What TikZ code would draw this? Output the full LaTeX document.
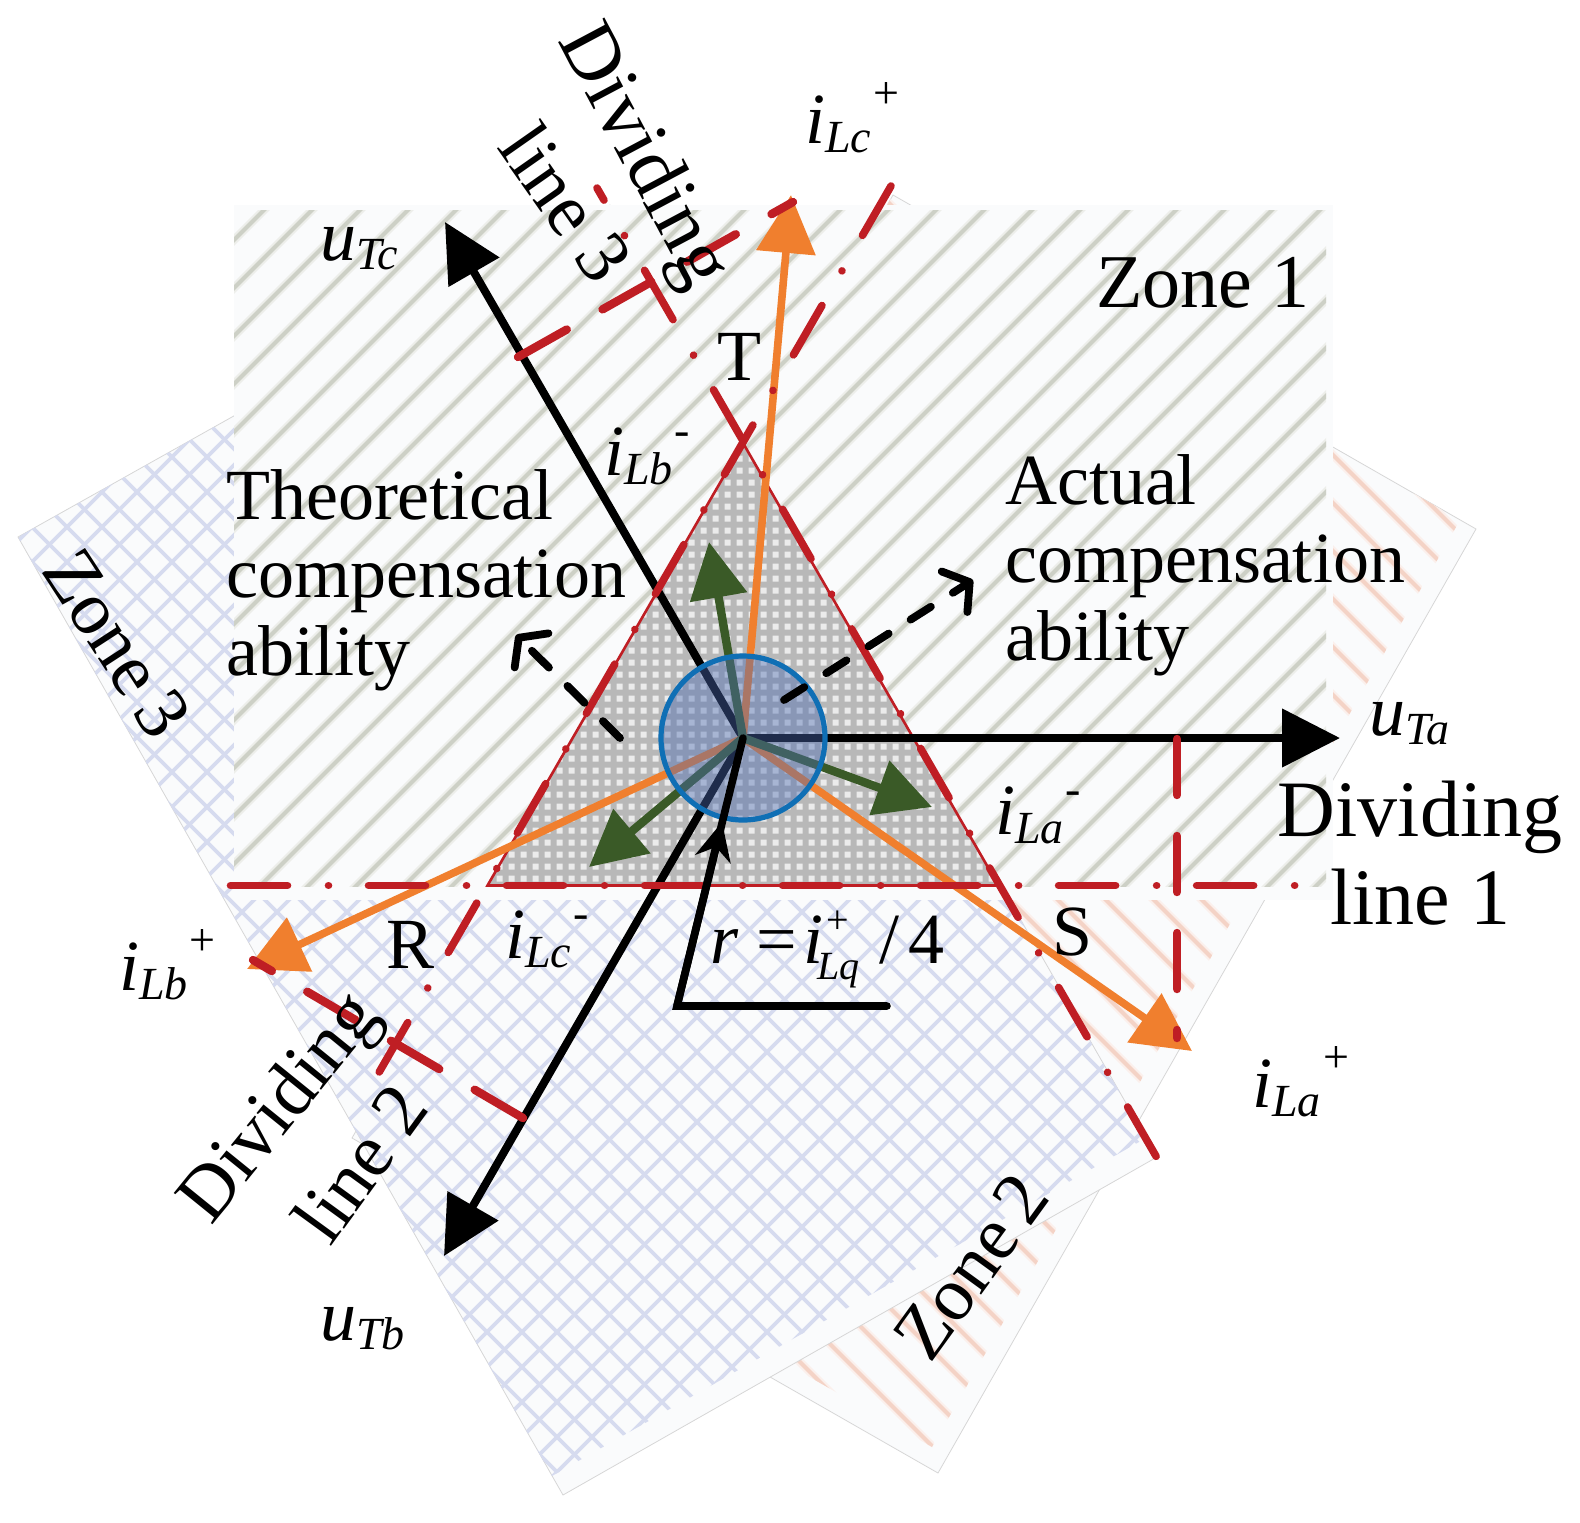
\documentclass[tikz,border=0pt]{standalone}
\usepackage{fontspec}
\setmainfont{Liberation Serif}
\usetikzlibrary{arrows.meta}
\definecolor{redline}{HTML}{BF1E24}
\definecolor{orangeline}{HTML}{F07F2E}
\definecolor{greenline}{HTML}{3A5A27}
\definecolor{circleline}{HTML}{0F6FB5}
\definecolor{circlefill}{HTML}{4A6BB4}
\definecolor{zonefill}{HTML}{FAFBFC}
\definecolor{stripegray}{HTML}{CDD0C6}
\definecolor{stripegrayhalo}{HTML}{EDEEEA}
\definecolor{hatchblue}{HTML}{D6DBEF}
\definecolor{stripepink}{HTML}{F4D3C6}
\definecolor{stripepinkhalo}{HTML}{FBF0EC}
\newcommand{\subsz}{\fontsize{23}{24}\selectfont}
\newcommand{\tinysz}{\fontsize{20}{20}\selectfont}
\newcommand{\curlab}[4]{{\itshape #1}\raisebox{-4.5pt}{\subsz\itshape #2}\raisebox{#4}{\subsz\kern1pt #3}}
\newcommand{\pluslab}[1]{\curlab{i}{#1}{+}{17.5pt}}
\newcommand{\minuslab}[1]{\curlab{i}{#1}{-}{15pt}}
\newcommand{\volab}[1]{{\itshape u}\raisebox{-4.5pt}{\subsz\itshape #1}}
\tikzset{
  txt/.style={inner sep=0pt,text=black,font=\fontsize{36}{39}\selectfont},
  bigtxt/.style={inner sep=0pt,text=black,font=\fontsize{40}{44}\selectfont},
  midtxt/.style={inner sep=0pt,text=black,font=\fontsize{38}{40}\selectfont},
  zonetxt/.style={inner sep=0pt,text=black,font=\fontsize{38}{39}\selectfont},
  stripeA/.style={stripegray,line width=2pt},
  stripeAh/.style={stripegrayhalo,line width=4.2pt},
  hatchB/.style={hatchblue,line width=1.9pt},
  stripeC/.style={stripepink,line width=2pt},
  stripeCh/.style={stripepinkhalo,line width=4.2pt},
  zoneedge/.style={draw=black!16,line width=.4pt,fill=zonefill},
  divline/.style={redline,line width=3.8pt,line cap=round,dash pattern=on 28.5pt off 20.5pt on 0.01pt off 20pt},
  dimline/.style={redline,line width=4.2pt,line cap=round,dash pattern=on 28pt off 20.5pt},
  axis/.style={black,line width=4pt,-{Triangle[length=29pt,width=28.5pt]}},
  loadcur/.style={orangeline,line width=3.8pt,-{Triangle[length=29pt,width=29pt]}},
  negcur/.style={greenline,line width=4.2pt,-{Triangle[length=28pt,width=28pt]}},
  dasharrow/.style={black,line width=3.9pt,line cap=round,dash pattern=on 12pt off 13pt,-{Straight Barb[length=9pt,width=24pt,round]}},
}
\begin{document}
\begin{tikzpicture}[x=0.5pt,y=-0.5pt]
\useasboundingbox (0,0) rectangle (1580,1522);
% named points
\coordinate (O) at (743,738);
\coordinate (apex) at (743,443);
\coordinate (triL) at (487.5,885.5);
\coordinate (triR) at (998.5,885.5);
\coordinate (tipUa) at (1340,738);
\coordinate (tipUc) at (445,222);
\coordinate (tipUb) at (444,1256);
\coordinate (tipIc) at (791,195);
\coordinate (tipIb) at (247,969);
\coordinate (tipIa) at (1192,1051);
\coordinate (tipGc) at (709,542);
\coordinate (tipGa) at (932,807);
\coordinate (tipGb) at (589,867);
\coordinate (corner) at (677,1006);
\coordinate (radEnd) at (887,1006);
\coordinate (radTip) at (722,822);
% Zone 2 pink layer
\path[zoneedge] (893,195) -- (1476,529) -- (938,1473) -- (352,1138) -- cycle;
\begin{scope}
\clip (893,195) -- (1460,520) -- (932,1447) -- (362,1121) -- cycle;
\foreach \k in {-6,...,30}{
  \draw[stripeCh] ({-514+48*\k+1600},1600) -- ({-514+48*\k-100},-100);
  \draw[stripeC] ({-514+48*\k+1600},1600) -- ({-514+48*\k-100},-100);
}
\end{scope}
% blue layer
\path[zoneedge] (18,537) -- (563,1495) -- (1157,1157) -- (610,205) -- cycle;
\begin{scope}
\clip (18,537) -- (552,1476) -- (1146,1138) -- (610,205) -- cycle;
\foreach \k in {0,...,50}{
  \draw[hatchB] ({559+35*\k-1600},1600) -- ({559+35*\k+100},-100);
}
\foreach \k in {0,...,40}{
  \draw[hatchB] ({-950+35*\k+1600},1600) -- ({-950+35*\k-100},-100);
}
\end{scope}
% Zone 1 layer
\fill[zonefill] (234,205) rectangle (1333,900);
\begin{scope}
\clip (234,210) rectangle (1326,886);
\foreach \k in {-16,...,22}{
  \draw[stripeAh] ({1194+48*\k-1000},1000) -- ({1194+48*\k+100},-100);
  \draw[stripeA] ({1194+48*\k-1000},1000) -- ({1194+48*\k+100},-100);
}
\end{scope}
% compensation triangle
\fill[black!28] (apex) -- (triR) -- (triL) -- cycle;
\begin{scope}
\clip (apex) -- (triR) -- (triL) -- cycle;
\fill[white!92!black] \foreach \i in {0,...,43}{\foreach \j in {0,...,37}{
  ({484.7+12*\i},{443.7+12*\j}) rectangle ++(6,6)}};
\end{scope}
\draw[redline,line width=1.3pt] (apex) -- (triR) -- (triL) -- cycle;
% vectors
\draw[axis] (O) -- (tipUa);
\draw[axis] (O) -- (tipUc);
\draw[axis] (O) -- (tipUb);
\draw[loadcur] (O) -- (tipIc);
\draw[loadcur] (O) -- (tipIb);
\draw[loadcur] (O) -- (tipIa);
\draw[negcur] (O) -- (tipGc);
\draw[negcur] (O) -- (tipGa);
\draw[negcur] (O) -- (tipGb);
% circle
\fill[circlefill,fill opacity=.42] (O) circle[radius=82];
\draw[circleline,line width=2.6pt] (O) circle[radius=82];
% dividing lines
\coordinate (d1s) at (230.5,885.5);
\coordinate (d1e) at (1296,885.5);
\coordinate (d2s) at (891,186);
\coordinate (d2e) at (359,1107);
\coordinate (d3s) at (597,188);
\coordinate (d3e) at (1156.5,1157);
\draw[divline] (d1s) -- (d1e);
\draw[divline] (d2s) -- (d2e);
\draw[divline,dash phase=21.5pt] (d3s) -- (d3e);
\coordinate (pas) at (1177,739);
\coordinate (pae) at (1177,1038);
\coordinate (pcs) at (518,357);
\coordinate (pce) at (793,202);
\coordinate (pbs) at (523,1118);
\coordinate (pbe) at (253,960);
\draw[dimline] (pas) -- (pae);
\draw[dimline] (pcs) -- (pce);
\draw[dimline] (pbs) -- (pbe);
% radius
\draw[black,line width=3.8pt,line cap=round,line join=miter] (radEnd) -- (corner) -- (O);
\draw[black,line width=3.8pt,-{Stealth[length=19pt,width=18pt]}] (corner) -- (radTip);
% dashed arrows
\coordinate (daS) at (784,700);
\coordinate (daT) at (973,580);
\coordinate (dbS) at (620,738);
\coordinate (dbT) at (516,635);
\draw[dasharrow] (daS) -- (daT);
\draw[dasharrow] (dbS) -- (dbT);
% labels
\node[zonetxt,anchor=base west] (z1) at (1096,307) {Zone 1};
\node[zonetxt,rotate=54,anchor=center] (z2) at (971,1267) {Zone\hspace{6pt}2};
\node[zonetxt,rotate=-57,anchor=center] (z3) at (117,643) {Zone\hspace{6pt}3};
\node[txt,align=left,anchor=center] (theo) at (426,580) {Theoretical\\compensation\\ability};
\node[txt,align=left,anchor=center] (act) at (1205,565) {Actual\\compensation\\ability};
\node[bigtxt,align=center,anchor=center] (dl1) at (1420,853) {Dividing\\line 1};
\node[bigtxt,rotate=-62,anchor=center] (dl3a) at (641,157) {Dividing};
\node[midtxt,rotate=-55,anchor=center] (dl3b) at (567,203) {line 3};
\node[midtxt,rotate=51,anchor=center] (dl2a) at (282,1110) {Dividing};
\node[midtxt,rotate=54,anchor=center] (dl2b) at (360,1163) {line 2};
\node[txt,anchor=base] (T) at (739,380) {T};
\node[txt,anchor=base] (R) at (411,968) {R};
\node[txt,anchor=base] (S) at (1073,955) {S};
\node[txt,anchor=base west] (lTc) at (320,260) {\volab{Tc}};
\node[txt,anchor=base west] (lTa) at (1369,735) {\volab{Ta}};
\node[txt,anchor=base west] (lTb) at (320,1340) {\volab{Tb}};
\node[txt,anchor=base west] (lcp) at (805,143) {\pluslab{Lc}};
\node[txt,anchor=base west] (lbp) at (119,990) {\pluslab{Lb}};
\node[txt,anchor=base west] (lap) at (1252,1107) {\pluslab{La}};
\node[txt,anchor=base west] (lbm) at (604,475) {\minuslab{Lb}};
\node[txt,anchor=base west] (lam) at (995,834) {\minuslab{La}};
\node[txt,anchor=base west] (lcm) at (505,958) {\minuslab{Lc}};
\node[txt,anchor=base west] (rad) at (710,963) {{\itshape r}\hspace{9pt}=\hspace{3pt}{\itshape i}\rlap{\kern-3pt\raisebox{-8pt}{\tinysz\itshape Lq}}\rlap{\kern1.5pt\raisebox{15pt}{\tinysz +}}\hspace{28pt}/\hspace{5pt}4};
\end{tikzpicture}
\end{document}
